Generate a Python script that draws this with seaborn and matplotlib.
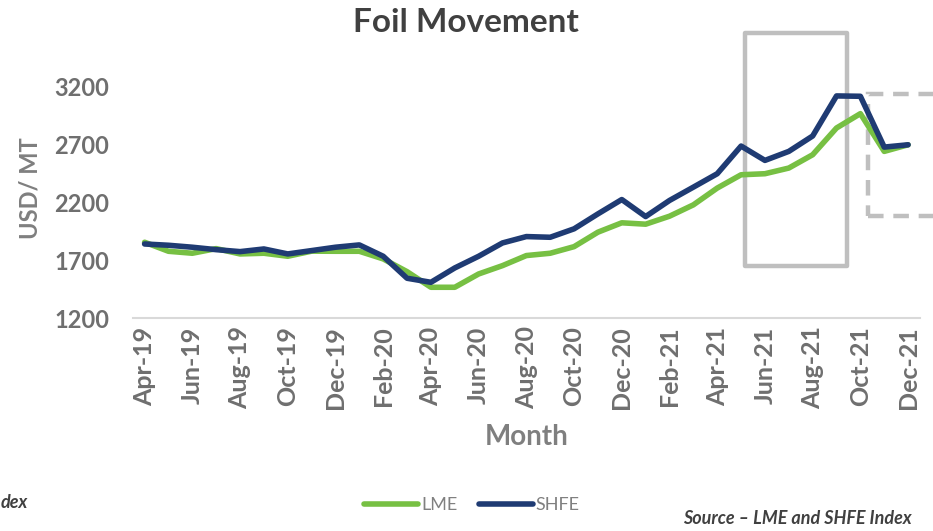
import matplotlib
matplotlib.use("Agg")
import matplotlib.pyplot as plt
import matplotlib.patches as mpatches
import seaborn as sns
import pandas as pd

months = ["Apr-19", "May-19", "Jun-19", "Jul-19", "Aug-19", "Sep-19", "Oct-19", "Nov-19",
          "Dec-19", "Jan-20", "Feb-20", "Mar-20", "Apr-20", "May-20", "Jun-20", "Jul-20",
          "Aug-20", "Sep-20", "Oct-20", "Nov-20", "Dec-20", "Jan-21", "Feb-21", "Mar-21",
          "Apr-21", "May-21", "Jun-21", "Jul-21", "Aug-21", "Sep-21", "Oct-21", "Nov-21",
          "Dec-21"]
lme = [1855, 1777, 1760, 1800, 1754, 1760, 1734, 1778, 1777, 1777, 1711, 1601, 1466,
       1466, 1581, 1653, 1740, 1760, 1817, 1942, 2023, 2011, 2080, 2178, 2323, 2438,
       2447, 2496, 2611, 2842, 2966, 2640, 2697]
shfe = [1840, 1829, 1812, 1791, 1774, 1797, 1754, 1783, 1812, 1832, 1734, 1544, 1509,
        1633, 1734, 1849, 1904, 1898, 1971, 2100, 2224, 2077, 2216, 2331, 2447, 2686,
        2562, 2640, 2773, 3119, 3116, 2677, 2697]
series_names = ["LME", "SHFE"]
y_ticks = [1200, 1700, 2200, 2700, 3200]

colors = {"LME": "#77C043", "SHFE": "#1F3B73"}

df = pd.DataFrame({
    "pos": list(range(len(months))) * 2,
    "value": lme + shfe,
    "series": ["LME"] * len(lme) + ["SHFE"] * len(shfe),
})

sns.set_theme(style="white")
plt.rcParams["font.family"] = ["Lato", "DejaVu Sans"]

fig = plt.figure(figsize=(9.33, 5.31), dpi=100)
ax = fig.add_axes([0.1422, 0.4010, 0.8439, 0.4905])

sns.lineplot(data=df, x="pos", y="value", hue="series", hue_order=series_names,
             palette=colors, linewidth=4, ax=ax, legend=True, solid_capstyle="round")

ax.set_xlim(-0.5, len(months) - 0.5)
ax.set_ylim(1200, 3450)
ax.set_yticks(y_ticks)
ax.set_yticklabels([str(t) for t in y_ticks], fontsize=17, fontweight="bold", color="#6F6F6F")
label_pos = list(range(0, len(months), 2))
ax.set_xticks(label_pos)
ax.set_xticklabels([months[i] for i in label_pos], rotation=90, fontsize=18,
                   fontweight="bold", color="#6F6F6F")
ax.set_xticks([p - 0.5 for p in label_pos], minor=True)
ax.tick_params(axis="x", which="major", length=0, pad=6)
ax.tick_params(axis="x", which="minor", length=8, width=1.2, color="#D9D9D9", direction="out")
ax.tick_params(axis="y", length=0, pad=17)
for s in ["left", "right", "top"]:
    ax.spines[s].set_visible(False)
ax.spines["bottom"].set_color("#D9D9D9")
ax.spines["bottom"].set_linewidth(1.5)
ax.grid(False)

ax.set_xlabel("Month", fontsize=20, fontweight="bold", color="#7F7F7F")
ax.xaxis.set_label_coords(0.5008, -0.457)
ax.xaxis.label.set_va("center")
ax.set_ylabel("USD/ MT", fontsize=17, fontweight="bold", color="#7F7F7F")
ax.yaxis.set_label_coords(-0.130, 0.50)
ax.yaxis.label.set_va("center")

# highlight boxes
box1 = mpatches.Rectangle((25.17, 1650), 4.28, 2009, fill=False, edgecolor="#BFBFBF",
                          linewidth=3.2, clip_on=False, joinstyle="round", zorder=1)
ax.add_patch(box1)
box2 = mpatches.Rectangle((30.34, 2086), 3.5, 1053, fill=False, edgecolor="#BFBFBF",
                          linewidth=3.2, linestyle=(0, (3.5, 2.2)), clip_on=False, zorder=1)
ax.add_patch(box2)

# legend
handles, labels = ax.get_legend_handles_labels()
ax.get_legend().remove()
leg = fig.legend(handles, labels, loc="center", bbox_to_anchor=(472 / 933, 1 - 505 / 531),
                 ncol=2, frameon=False, fontsize=13, handlelength=3.0, handletextpad=0.15,
                 columnspacing=1.2)
for t in leg.get_texts():
    t.set_color("#808080")
for h in leg.get_lines():
    h.set_linewidth(4)

fig.text(466 / 933, 1 - 22 / 531, "Foil Movement", ha="center", va="center",
         fontsize=24, fontweight="bold", color="#404040")
fig.text(912 / 933, 1 - 519 / 531, "Source \u2013 LME and SHFE Index", ha="right",
         va="center", fontsize=13, fontweight="bold", style="italic", color="#404040")
fig.text(1 / 933, 1 - 503 / 531, "dex", ha="left", va="center",
         fontsize=13, fontweight="bold", style="italic", color="#404040")

fig.savefig("out.png", dpi=100)
